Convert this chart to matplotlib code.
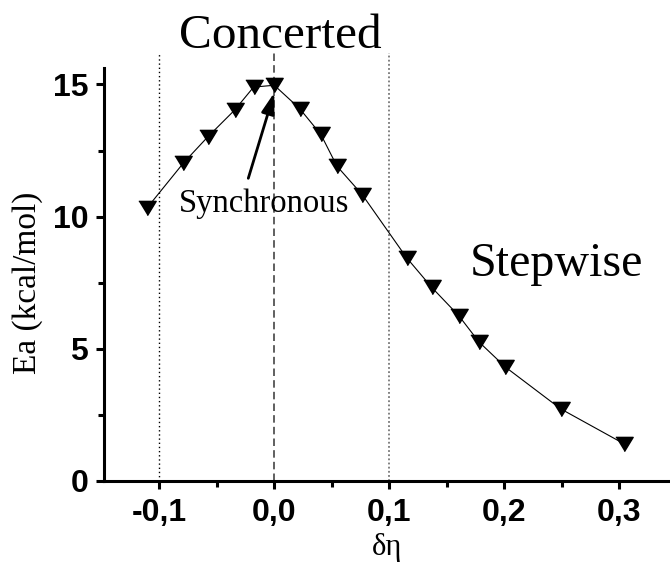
import matplotlib
matplotlib.use("Agg")
import matplotlib.pyplot as plt
from matplotlib.ticker import MultipleLocator

# Activation energy versus asynchronicity
delta_eta = [-0.111, -0.079, -0.058, -0.0345, -0.018, 0.0, 0.022, 0.0405, 0.0545,
             0.0765, 0.115, 0.137, 0.1605, 0.178, 0.201, 0.249, 0.304]
ea = [10.31, 12.03, 13.01, 14.03, 14.9, 14.97, 14.09, 13.11, 11.91,
      10.83, 8.45, 7.32, 6.25, 5.26, 4.31, 2.73, 1.41]

x_ticks = [-0.1, 0.0, 0.1, 0.2, 0.3]
x_tick_labels = ["-0,1", "0,0", "0,1", "0,2", "0,3"]
y_ticks = [0, 5, 10, 15]
y_tick_labels = ["0", "5", "10", "15"]

serif = "Liberation Serif"
sans = "Liberation Sans"

fig = plt.figure(figsize=(6.7, 5.62), dpi=100)
ax = fig.add_axes([103.5 / 670, 81 / 562, 566.5 / 670, 428 / 562])
ax.set_xlim(-0.1485, 0.3441)
ax.set_ylim(0, 16.19)

# region boundaries
ax.axvline(-0.1, color="black", lw=1.0, ls=(0, (1, 2)), zorder=1)
ax.axvline(0.0, color="#444444", lw=1.2, ls=(0, (4.5, 2.5)), zorder=1)
ax.axvline(0.1, color="#777777", lw=1.3, ls=(0, (1, 1.3)), zorder=1)

tri = [(-1, 0.82), (1, 0.82), (0, -0.82)]
ax.plot(delta_eta, ea, color="black", lw=0.8, marker=tri, ms=12.5,
        mfc="black", mec="black", zorder=3)

ax.annotate("", xy=(0.0, 14.69), xytext=(-0.0226, 11.45),
            arrowprops=dict(arrowstyle="-|>,head_length=0.9,head_width=0.28",
                            color="black", lw=2.0, shrinkA=0, shrinkB=0,
                            mutation_scale=14), zorder=4)
ax.text(-0.009, 10.17, "Synchronous", family=serif, fontsize=23.5,
        ha="center", va="baseline", zorder=5)
ax.text(0.005, 16.38, "Concerted", family=serif, fontsize=35.5,
        ha="center", va="baseline", clip_on=False)
ax.text(0.245, 7.75, "Stepwise", family=serif, fontsize=34.5,
        ha="center", va="baseline")

for side in ("top", "right"):
    ax.spines[side].set_visible(False)
for side in ("left", "bottom"):
    ax.spines[side].set_linewidth(2.2)
ax.spines["left"].set_bounds(0, 15.62)

ax.set_xticks(x_ticks)
ax.set_xticklabels(x_tick_labels)
ax.set_yticks(y_ticks)
ax.set_yticklabels(y_tick_labels)
ax.xaxis.set_minor_locator(MultipleLocator(0.05))
ax.yaxis.set_minor_locator(MultipleLocator(2.5))
ax.tick_params(which="major", direction="out", length=6, width=2.2)
ax.tick_params(which="minor", direction="out", length=4, width=2.2)
ax.tick_params(axis="x", which="major", pad=6)
ax.tick_params(axis="y", which="major", pad=5)
for lab in ax.get_xticklabels() + ax.get_yticklabels():
    lab.set_family(sans)
    lab.set_fontweight("bold")
    lab.set_fontsize(23)

ax.set_xlabel("δη", family=serif, fontsize=22, labelpad=4)
ax.set_ylabel("Ea (kcal/mol)", family=serif, fontsize=24)
ax.yaxis.set_label_coords(-0.106, 0.4626)

fig.savefig("out.png", dpi=100)
